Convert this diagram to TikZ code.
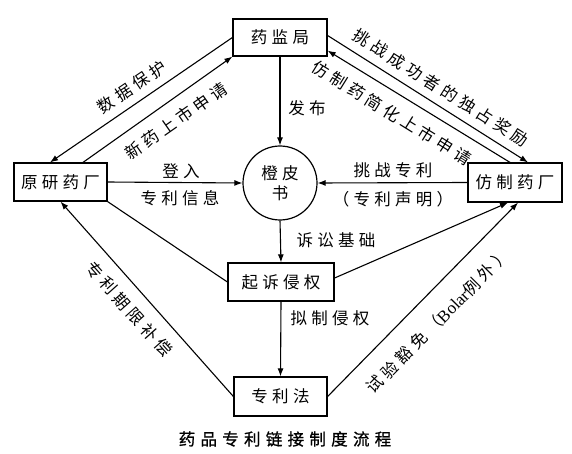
\documentclass[tikz,border=0pt]{standalone}
\usepackage{fontspec}
\setmainfont{Liberation Serif}
\newfontfamily\cjk[LetterSpace=26]{Noto Sans CJK SC}
\newfontfamily\cjkcap[LetterSpace=32,FakeBold=1]{Noto Sans CJK SC}
\usetikzlibrary{arrows.meta,calc}
\begin{document}
\begin{tikzpicture}[x=1pt,y=-1pt,
  txt/.style={font=\cjk\fontsize{16.5}{20}\selectfont},
  box/.style={draw, line width=1.2pt, inner sep=0pt, txt},
  lbl/.style={inner sep=0pt, txt},
  arr/.style={line width=1.1pt, -{Latex[length=8pt,width=6pt]}},
  ln/.style={line width=1.1pt}]
\useasboundingbox (0,0) rectangle (572,454);
\node[box, minimum width=94pt, minimum height=37pt] (jj) at (280,37.5) {药监局};
\node[box, minimum width=93pt, minimum height=38pt] (yy) at (60.5,182) {原研药厂};
\node[box, minimum width=94pt, minimum height=39pt] (fz) at (515,182.5) {仿制药厂};
\node[draw, circle, line width=1.2pt, minimum size=74pt, inner sep=0pt, align=center, txt] (obs) at (280,183) {橙皮\\书};
\node[box, minimum width=106pt, minimum height=38pt] (qs) at (281,282) {起诉侵权};
\node[box, minimum width=93pt, minimum height=39pt] (zl) at (280.5,396.5) {专利法};

\draw[arr] (jj.west) -- ($(yy.north)+(-10.5,0)$);
\draw[arr] ($(yy.north)+(22.5,0)$) -- (jj.south west);
\draw[arr] (jj.south) -- (obs.north);
\draw[arr] ($(jj.east)+(0,-2)$) -- ($(fz.north)+(13,0)$);
\draw[arr] ($(fz.north)+(-5,0)$) -- ($(jj.south east)+(0,-6)$);
\draw[arr] (yy.east) -- (obs.west);
\draw[arr] (fz.west) -- (obs.east);
\draw[arr] (obs.south) -- (qs.north);
\draw[ln] (yy.south east) -- (qs.west);
\draw[arr] ($(qs.east)+(0,-4)$) -- ($(fz.south)+(-7,0)$);
\draw[arr] (qs.south) -- (zl.north);
\draw[arr] (zl.west) -- (yy.south);
\draw[arr] (zl.east) -- ($(fz.south)+(3,0)$);

\node[lbl, rotate=34] (l1) at (132,87) {数据保护};
\node[lbl, rotate=35] (l2) at (176,121) {新药上市申请};
\node[lbl, rotate=-32.3] (l3) at (441,88) {挑战成功者的独占奖励};
\node[lbl, rotate=-31.8] (l4) at (392,113) {仿制药简化上市申请};
\node[lbl] (l5) at (307,108) {发布};
\node[lbl] (l6) at (181,171) {登入};
\node[lbl] (l7) at (180,198) {专利信息};
\node[lbl] (l8) at (393,170) {挑战专利};
\node[lbl] (l9) at (393,199) {（专利声明）};
\node[lbl] (l10) at (336,240) {诉讼基础};
\node[lbl] (l11) at (330,318) {拟制侵权};
\node[lbl, rotate=-48.3] (l12) at (129,309) {专利期限补偿};
\node[lbl, rotate=45.3] (l13) at (438,321) {试验豁免（{\normalfont\fontsize{17}{20}\selectfont Bolar}例外）};
\node[inner sep=0pt, font=\cjkcap\fontsize{16.5}{20}\selectfont] (cap) at (285,439) {药品专利链接制度流程};
\end{tikzpicture}
\end{document}
